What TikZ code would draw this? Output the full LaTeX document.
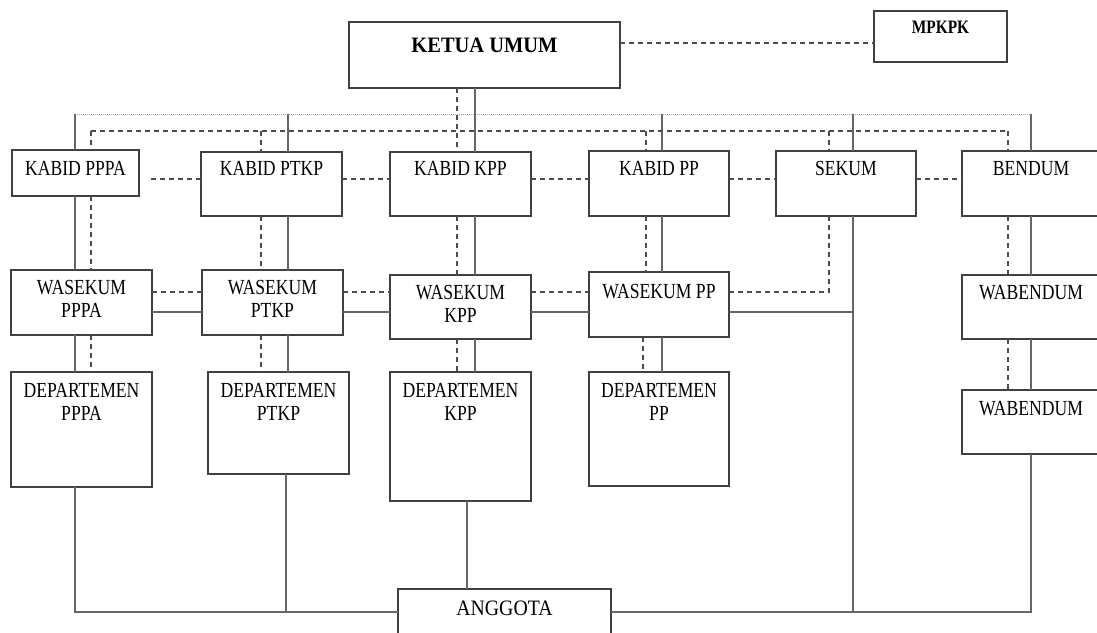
\documentclass[tikz,border=0pt]{standalone}
\usepackage{fontspec}
\setmainfont{Liberation Serif}
\usepackage{graphicx}
\newcommand\tx[2][0.82]{\scalebox{#1}[1]{\begin{tabular}[t]{@{}c@{}}#2\end{tabular}}}
\tikzset{
  box/.style={draw=black!75, line width=1.1pt, rectangle, inner sep=0pt, outer sep=0pt, anchor=north west, fill=white},
  lbl/.style={inner sep=0pt, outer sep=0pt, anchor=base, font=\fontsize{21.5}{23}\selectfont},
  sl/.style={draw=black!60, line width=1.1pt},
  dl/.style={draw=black!70, line width=1.1pt, dash pattern=on 5pt off 4pt},
  gl/.style={draw=black!35, line width=0.9pt, dash pattern=on 1pt off 1pt}
}
\begin{document}
\begin{tikzpicture}[x=1pt,y=-1pt]
\useasboundingbox (0,0) rectangle (1097,632);
\clip (0,0) rectangle (1097,632);
% named positions
\coordinate (xa) at (75,0);   \coordinate (xad) at (91,0);
\coordinate (xb) at (288,0);  \coordinate (xbd) at (261,0);
\coordinate (xb2) at (286,0);
\coordinate (xc) at (475,0);  \coordinate (xcd) at (457,0);
\coordinate (xc2) at (467,0);
\coordinate (xd) at (662,0);  \coordinate (xdd) at (646,0);
\coordinate (xddd) at (643,0);
\coordinate (xe) at (853,0);  \coordinate (xed) at (829,0);
\coordinate (xf) at (1031,0); \coordinate (xfd) at (1008,0);
\coordinate (ym) at (0,43);
\coordinate (ytop) at (0,114);
\coordinate (ydash) at (0,131);
\coordinate (yr1) at (0,179);
\coordinate (yw) at (0,292);
\coordinate (yws) at (0,312);
\coordinate (ybot) at (0,612);
% boxes
\node[box, minimum width=271pt, minimum height=66pt] (ketua) at (349,22) {};
\node[box, minimum width=133pt, minimum height=51pt] (mpkpk) at (874,11) {};
\node[box, minimum width=127pt, minimum height=46pt] (k1) at (12,150) {};
\node[box, minimum width=141pt, minimum height=64pt] (k2) at (201,152) {};
\node[box, minimum width=141pt, minimum height=64pt] (k3) at (390,152) {};
\node[box, minimum width=140pt, minimum height=65pt] (k4) at (589,151) {};
\node[box, minimum width=140pt, minimum height=65pt] (k5) at (776,151) {};
\node[box, minimum width=150pt, minimum height=65pt] (k6) at (962,151) {};
\node[box, minimum width=141pt, minimum height=65pt] (w1) at (11,270) {};
\node[box, minimum width=141pt, minimum height=65pt] (w2) at (202,270) {};
\node[box, minimum width=141pt, minimum height=64pt] (w3) at (390,275) {};
\node[box, minimum width=140pt, minimum height=65pt] (w4) at (589,272) {};
\node[box, minimum width=150pt, minimum height=64pt] (wb1) at (962,275) {};
\node[box, minimum width=150pt, minimum height=64pt] (wb2) at (962,390) {};
\node[box, minimum width=141pt, minimum height=115pt] (d1) at (11,372) {};
\node[box, minimum width=141pt, minimum height=102pt] (d2) at (208,372) {};
\node[box, minimum width=141pt, minimum height=129pt] (d3) at (390,372) {};
\node[box, minimum width=140pt, minimum height=114pt] (d4) at (589,372) {};
\node[box, minimum width=213pt, minimum height=70pt] (ang) at (398,589) {};
% texts
\node[lbl, font=\fontsize{22}{24}\selectfont\bfseries] (ketuat) at (ketua.north |- 0,52) {\tx[0.93]{KETUA UMUM}};
\node[lbl, font=\fontsize{19}{21}\selectfont\bfseries] (mpkpkt) at (mpkpk.north |- 0,33) {\tx[0.81]{MPKPK}};
\node[lbl] (k1t) at (k1.north |- 0,175) {\tx{KABID PPPA}};
\node[lbl] (k2t) at (k2.north |- 0,175) {\tx{KABID PTKP}};
\node[lbl] (k3t) at (k3.north |- 0,175) {\tx{KABID KPP}};
\node[lbl] (k4t) at (k4.north |- 0,175) {\tx{KABID PP}};
\node[lbl] (k5t) at (k5.north |- 0,175) {\tx{SEKUM}};
\node[lbl] (k6t) at (1031,175) {\tx{BENDUM}};
\node[lbl] (w1t) at (w1.north |- 0,294) {\tx{WASEKUM\\PPPA}};
\node[lbl] (w2t) at (w2.north |- 0,294) {\tx{WASEKUM\\PTKP}};
\node[lbl] (w3t) at (w3.north |- 0,299) {\tx{WASEKUM\\KPP}};
\node[lbl] (w4t) at (w4.north |- 0,298) {\tx{WASEKUM PP}};
\node[lbl] (wb1t) at (1031,299) {\tx{WABENDUM}};
\node[lbl] (wb2t) at (1031,415) {\tx{WABENDUM}};
\node[lbl] (d1t) at (d1.north |- 0,397) {\tx{DEPARTEMEN\\PPPA}};
\node[lbl] (d2t) at (d2.north |- 0,397) {\tx{DEPARTEMEN\\PTKP}};
\node[lbl] (d3t) at (d3.north |- 0,397) {\tx{DEPARTEMEN\\KPP}};
\node[lbl] (d4t) at (d4.north |- 0,397) {\tx{DEPARTEMEN\\PP}};
\node[lbl, font=\fontsize{22}{24}\selectfont] (angt) at (ang.north |- 0,615) {\tx[0.9]{ANGGOTA}};
% ketua - mpkpk
\draw[dl] (ketua.east |- ym) -- (mpkpk.west |- ym);
% top lines
\draw[gl] (xa |- ytop) -- (xf |- ytop);
\draw[sl] (ketua.south -| xc) -- (k3.north -| xc);
\draw[sl] (xa |- ytop) -- (k1.north -| xa);
\draw[sl] (xb |- ytop) -- (k2.north -| xb);
\draw[sl] (xd |- ytop) -- (k4.north -| xd);
\draw[sl] (xe |- ytop) -- (k5.north -| xe);
\draw[sl] (xf |- ytop) -- (k6.north -| xf);
\draw[dl] (xad |- ydash) -- (xfd |- ydash);
\draw[dl] (ketua.south -| xcd) -- (k3.north -| xcd);
\draw[dl] (xad |- ydash) -- (k1.north -| xad);
\draw[dl] (xbd |- ydash) -- (k2.north -| xbd);
\draw[dl] (xdd |- ydash) -- (k4.north -| xdd);
\draw[dl] (xed |- ydash) -- (k5.north -| xed);
\draw[dl] (xfd |- ydash) -- (k6.north -| xfd);
% row 1 horizontals
\draw[dl, shorten <=12pt] (k1.east |- yr1) -- (k2.west |- yr1);
\draw[dl] (k2.east |- yr1) -- (k3.west |- yr1);
\draw[dl] (k3.east |- yr1) -- (k4.west |- yr1);
\draw[dl] (k4.east |- yr1) -- (k5.west |- yr1);
\draw[dl] (k5.east |- yr1) -- (k6.west |- yr1);
% row 1 -> row 2
\draw[sl] (k1.south -| xa) -- (w1.north -| xa);
\draw[dl] (k1.south -| xad) -- (w1.north -| xad);
\draw[sl] (k2.south -| xb) -- (w2.north -| xb);
\draw[dl] (k2.south -| xbd) -- (w2.north -| xbd);
\draw[sl] (k3.south -| xc) -- (w3.north -| xc);
\draw[dl] (k3.south -| xcd) -- (w3.north -| xcd);
\draw[sl] (k4.south -| xd) -- (w4.north -| xd);
\draw[dl] (k4.south -| xdd) -- (w4.north -| xdd);
\draw[dl] (k5.south -| xed) -- (xed |- yw) -- (w4.east |- yw);
\draw[sl] (k5.south -| xe) -- (xe |- ybot);
\draw[sl] (k6.south -| xf) -- (wb1.north -| xf);
\draw[dl] (k6.south -| xfd) -- (wb1.north -| xfd);
% row 2 horizontals
\draw[dl] (w1.east |- yw) -- (w2.west |- yw);
\draw[dl] (w2.east |- yw) -- (w3.west |- yw);
\draw[dl] (w3.east |- yw) -- (w4.west |- yw);
\draw[sl] (w1.east |- yws) -- (w2.west |- yws);
\draw[sl] (w2.east |- yws) -- (w3.west |- yws);
\draw[sl] (w3.east |- yws) -- (w4.west |- yws);
\draw[sl] (w4.east |- yws) -- (xe |- yws);
% row 2 -> row 3
\draw[sl] (w1.south -| xa) -- (d1.north -| xa);
\draw[dl] (w1.south -| xad) -- (d1.north -| xad);
\draw[sl] (w2.south -| xb) -- (d2.north -| xb);
\draw[dl] (w2.south -| xbd) -- (d2.north -| xbd);
\draw[sl] (w3.south -| xc) -- (d3.north -| xc);
\draw[dl] (w3.south -| xcd) -- (d3.north -| xcd);
\draw[sl] (w4.south -| xd) -- (d4.north -| xd);
\draw[dl] (w4.south -| xddd) -- (d4.north -| xddd);
\draw[sl] (wb1.south -| xf) -- (wb2.north -| xf);
\draw[dl] (wb1.south -| xfd) -- (wb2.north -| xfd);
% bottom
\draw[sl] (d1.south -| xa) -- (xa |- ybot) -- (ang.west |- ybot);
\draw[sl] (d2.south -| xb2) -- (xb2 |- ybot);
\draw[sl] (d3.south -| xc2) -- (ang.north -| xc2);
\draw[sl] (ang.east |- ybot) -- (xf |- ybot) -- (wb2.south -| xf);
\end{tikzpicture}
\end{document}
